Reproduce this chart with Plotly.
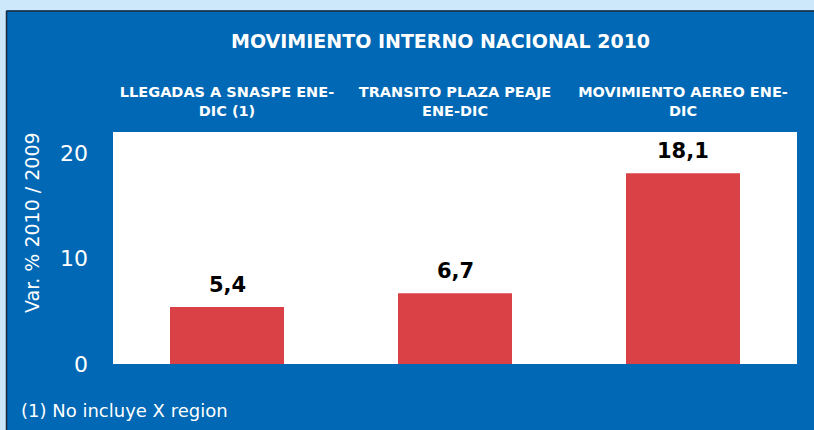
import plotly.graph_objects as go

categories = ["LLEGADAS A SNASPE ENE-<br>DIC (1)", "TRANSITO PLAZA PEAJE<br>ENE-DIC", "MOVIMIENTO AEREO ENE-<br>DIC"]
values = [5.4, 6.7, 18.1]
value_labels = ["5,4", "6,7", "18,1"]
y_ticks = [0, 10, 20]
title = "MOVIMIENTO INTERNO NACIONAL 2010"
y_title = "Var. % 2010 / 2009"
footnote = "(1) No incluye X region"

W, H = 814, 430
L, R, T, B = 113, 17, 132, 66
PW, PH = W - L - R, H - T - B

def px(x):
    return (x - L) / PW

def py(y):
    return (H - B - y) / PH

FONT = "DejaVu Sans"
PANEL = "#0068B4"
LIGHT = "#CDE8FB"
BAR = "#DA4147"

fig = go.Figure(go.Bar(
    x=categories, y=values,
    marker=dict(color=BAR, line=dict(width=0)), width=0.5, hoverinfo="skip",
))

for cat, val, lab in zip(categories, values, value_labels):
    fig.add_annotation(x=cat, y=val, xref="x", yref="y", text=lab, showarrow=False,
                       xanchor="center", yanchor="middle", yshift=22,
                       font=dict(family=FONT, size=21, color="black", weight="bold"))

fig.update_layout(
    width=W, height=H, margin=dict(l=L, r=R, t=T, b=B),
    paper_bgcolor=PANEL, plot_bgcolor="white", showlegend=False,
    font=dict(family=FONT, color="white"),
    xaxis=dict(side="top", showgrid=False, zeroline=False, ticks="", showline=False,
               tickfont=dict(family=FONT, size=14.5, color="white", weight="bold"),
               ticklabelstandoff=12),
    yaxis=dict(range=[0, 22], tickvals=y_ticks, showgrid=False, zeroline=False, ticks="",
               showline=False, tickfont=dict(family=FONT, size=22, color="white"),
               ticklabelstandoff=24),
    bargap=0.5,
)

shapes = [
    dict(type="rect", xref="paper", yref="paper", x0=px(-5), x1=px(W + 5), y0=py(10.5), y1=py(-5),
         fillcolor=LIGHT, line=dict(width=0), layer="above"),
    dict(type="rect", xref="paper", yref="paper", x0=px(-5), x1=px(6), y0=py(H + 5), y1=py(-5),
         fillcolor=LIGHT, line=dict(width=0), layer="above"),
    dict(type="line", xref="paper", yref="paper", x0=px(6.5), x1=px(W + 5), y0=py(11), y1=py(11),
         line=dict(color="#1b2b3b", width=1.5), layer="above"),
    dict(type="line", xref="paper", yref="paper", x0=px(6.5), x1=px(6.5), y0=py(11), y1=py(H + 5),
         line=dict(color="#1b2b3b", width=1.5), layer="above"),
]
fig.update_layout(shapes=shapes)

fig.add_annotation(text=title, xref="paper", yref="paper", x=px(440), y=py(41),
                   showarrow=False, xanchor="center", yanchor="middle",
                   font=dict(family=FONT, size=19, color="white", weight="bold"))
fig.add_annotation(text=y_title, xref="paper", yref="paper", x=px(32), y=py(223),
                   showarrow=False, textangle=-90, xanchor="center", yanchor="middle",
                   font=dict(family=FONT, size=19, color="white"))
fig.add_annotation(text=footnote, xref="paper", yref="paper", x=px(19), y=py(410),
                   showarrow=False, xanchor="left", yanchor="middle",
                   font=dict(family=FONT, size=18, color="white"))

fig.write_html("out.html", config={"displayModeBar": False},
               post_script="document.body.style.margin='0';document.body.style.overflow='hidden';")
